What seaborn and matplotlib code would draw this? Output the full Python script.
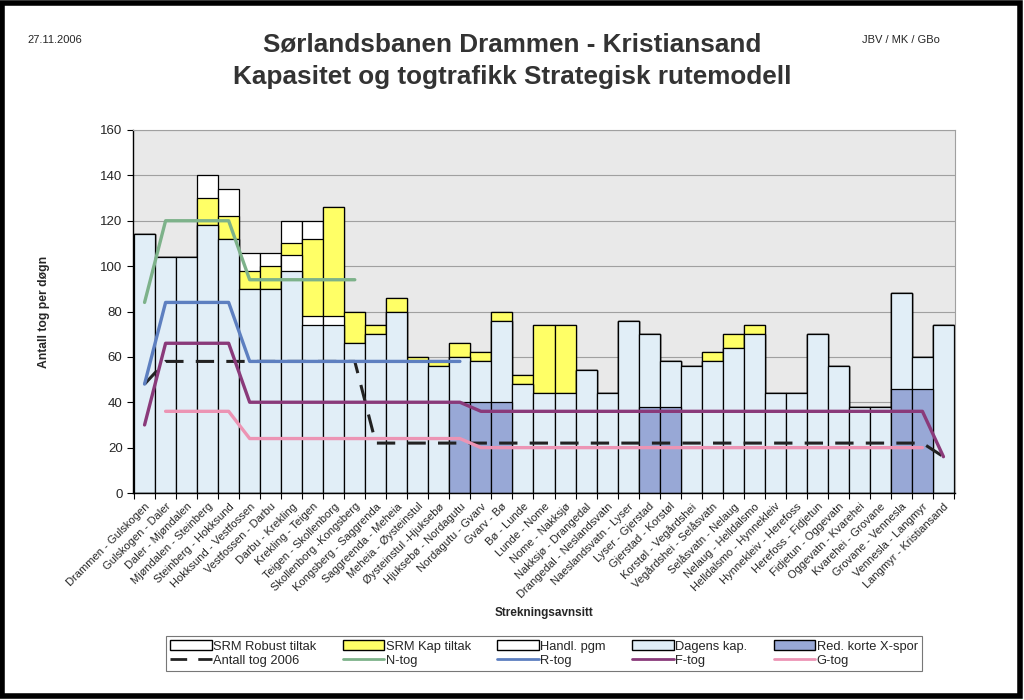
import numpy as np
import pandas as pd
import matplotlib
matplotlib.use("Agg")
import matplotlib.pyplot as plt
from matplotlib.patches import Patch, Rectangle
from matplotlib.lines import Line2D
import seaborn as sns

categories = [
    "Drammen - Gulskogen", "Gulskogen - Daler", "Daler - Mjøndalen", "Mjøndalen - Steinberg",
    "Steinberg - Hokksund", "Hokksund - Vestfossen", "Vestfossen - Darbu", "Darbu - Krekling",
    "Krekling - Teigen", "Teigen - Skollenborg", "Skollenborg -Kongsberg", "Kongsberg - Saggrenda",
    "Saggreenda - Meheia", "Meheia - Øysteinstul", "Øysteinstul -Hjuksebø", "Hjuksebø - Nordagutu",
    "Nordagutu - Gvarv", "Gvarv - Bø", "Bø - Lunde", "Lunde - Nome", "Nome - Nakksjø",
    "Nakksjø - Drangedal", "Drangedal - Neslandsvatn", "Naeslandsvatn - Lyser", "Lyser - Gjerstad",
    "Gjerstad - Korstøl", "Korstøl - Vegårdshei", "Vegårdshei - Selåsvatn", "Selåsvatn - Nelaug",
    "Nelaug - Helldalsmo", "Helldalsmo - Hynnekleiv", "Hynnekleiv - Herefoss", "Herefoss - Fidjetun",
    "Fidjetun - Oggevatn", "Oggevatn - Kvarehei", "Kvarehei - Grovane", "Grovane - Vennesla",
    "Vennesla - Langmyr", "Langmyr - Kristiansand",
]

# Bar layers
dagens_kap = [114, 104, 104, 118, 112, 90, 90, 98, 74, 74, 66, 70, 80, 58, 56, 60, 58, 76, 48, 44,
              44, 54, 44, 76, 70, 58, 56, 58, 64, 70, 44, 44, 70, 56, 38, 38, 88, 60, 74]
red_korte_xspor = [0, 0, 0, 0, 0, 0, 0, 0, 0, 0, 0, 0, 0, 0, 0, 40, 40, 40, 0, 0,
                   0, 0, 0, 0, 38, 38, 0, 0, 0, 0, 0, 0, 0, 0, 0, 0, 46, 46, 0]
handl_pgm = [0, 0, 0, 0, 0, 0, 0, 7, 4, 4, 0, 0, 0, 0, 0, 0, 0, 0, 0, 0,
             0, 0, 0, 0, 0, 0, 0, 0, 0, 0, 0, 0, 0, 0, 0, 0, 0, 0, 0]
srm_kap = [0, 0, 0, 12, 10, 8, 10, 5, 34, 48, 14, 4, 6, 2, 2, 6, 4, 4, 4, 30,
           30, 0, 0, 0, 0, 0, 0, 4, 6, 4, 0, 0, 0, 0, 0, 0, 0, 0, 0]
srm_robust = [0, 0, 0, 10, 12, 8, 6, 10, 8, 0, 0, 0, 0, 0, 0, 0, 0, 0, 0, 0,
              0, 0, 0, 0, 0, 0, 0, 0, 0, 0, 0, 0, 0, 0, 0, 0, 0, 0, 0]

nan = np.nan
# Lines
antall_2006 = [48] + [58] * 10 + [22] * 27 + [16]
n_tog = [84, 120, 120, 120, 120] + [94] * 6 + [nan] * 28
r_tog = [48, 84, 84, 84, 84] + [58] * 11 + [nan] * 23
f_tog = [30, 66, 66, 66, 66] + [40] * 11 + [36] * 22 + [16]
g_tog = [nan, 36, 36, 36, 36] + [24] * 11 + [20] * 22 + [nan]

sns.set_style("white")
plt.rcParams["font.family"] = ["Liberation Sans", "DejaVu Sans"]

fig = plt.figure(figsize=(10.24, 7), dpi=100)
ax = fig.add_axes([133 / 1024, 1 - 493 / 700, 822 / 1024, 363 / 700])
ax.set_facecolor("#e9e9e9")

df = pd.DataFrame({
    "cat": categories,
    "dagens": dagens_kap,
    "red": red_korte_xspor,
    "handl": handl_pgm,
    "kap": srm_kap,
    "robust": srm_robust,
})
df["lvl_handl"] = df["dagens"] + df["handl"]
df["lvl_kap"] = df["lvl_handl"] + df["kap"]
df["lvl_robust"] = df["lvl_kap"] + df["robust"]

c_dagens = "#e1eef7"
c_red = "#98a8d6"
c_yellow = "#ffff66"
layers = [("lvl_robust", "white"), ("lvl_kap", c_yellow), ("lvl_handl", "white"),
          ("dagens", c_dagens), ("red", c_red)]
for col, colr in layers:
    sns.barplot(data=df, x="cat", y=col, color=colr, saturation=1, width=1.0,
                edgecolor="black", linewidth=0.9, errorbar=None, ax=ax, zorder=2)

x = np.arange(len(categories))
line_specs = [
    (n_tog, "#7db28a", "N-tog"),
    (r_tog, "#5d7fc0", "R-tog"),
    (f_tog, "#8a3a7a", "F-tog"),
    (g_tog, "#ec94b4", "G-tog"),
]
ax.plot(x, antall_2006, color="#222222", lw=2.2, dashes=(6, 4), zorder=4)
for vals, colr, lab in line_specs:
    sns.lineplot(x=x, y=vals, color=colr, lw=2.4, ax=ax, zorder=5)

ax.set_ylim(0, 160)
ax.set_xlim(-0.55, len(categories) - 0.45)
ax.set_yticks(np.arange(0, 161, 20))
ax.yaxis.grid(True, color="#a0a0a0", lw=0.8)
ax.set_axisbelow(True)
ax.tick_params(axis="y", labelsize=9.5, length=4, direction="out", left=True, color="black")

ax.set_xticks(np.arange(-0.5, len(categories), 1))
ax.set_xticklabels([""] * (len(categories) + 1))
ax.set_xticks(x, minor=True)
ax.set_xticklabels(categories, minor=True, rotation=45, ha="right", rotation_mode="anchor",
                   fontsize=8.0)
ax.tick_params(axis="x", which="major", length=4, bottom=True, color="black")
ax.tick_params(axis="x", which="minor", length=0, pad=6)

for s in ["left", "bottom"]:
    ax.spines[s].set_color("black")
    ax.spines[s].set_linewidth(1.0)
for s in ["top", "right"]:
    ax.spines[s].set_color("#a0a0a0")
    ax.spines[s].set_linewidth(0.8)

ax.set_xlabel("Strekningsavnsitt", fontsize=8.5, fontweight="bold")
ax.set_ylabel("Antall tog per døgn", fontsize=8.7, fontweight="bold", labelpad=36)
ax.xaxis.set_label_coords(0.5, -0.315)

fig.text(0.5, 1 - 45 / 700, "Sørlandsbanen Drammen - Kristiansand", ha="center", va="center",
         fontsize=18.8, fontweight="bold", color="#333333")
fig.text(0.5, 1 - 77 / 700, "Kapasitet og togtrafikk Strategisk rutemodell", ha="center",
         va="center", fontsize=18.8, fontweight="bold", color="#333333")
fig.text(27 / 1024, 1 - 40 / 700, "27.11.2006", ha="left", va="center", fontsize=8)
fig.text(940 / 1024, 1 - 40 / 700, "JBV / MK / GBo", ha="right", va="center", fontsize=8)

handles = [
    Patch(facecolor="white", edgecolor="black", label="SRM Robust tiltak"),
    Line2D([], [], color="#222222", lw=2, dashes=(6, 4), label="Antall tog 2006"),
    Patch(facecolor=c_yellow, edgecolor="black", label="SRM Kap tiltak"),
    Line2D([], [], color="#7db28a", lw=2, label="N-tog"),
    Patch(facecolor="white", edgecolor="black", label="Handl. pgm"),
    Line2D([], [], color="#5d7fc0", lw=2, label="R-tog"),
    Patch(facecolor=c_dagens, edgecolor="black", label="Dagens kap."),
    Line2D([], [], color="#8a3a7a", lw=2, label="F-tog"),
    Patch(facecolor=c_red, edgecolor="black", label="Red. korte X-spor"),
    Line2D([], [], color="#ec94b4", lw=2, label="G-tog"),
]
if ax.get_legend() is not None:
    ax.get_legend().remove()
leg = fig.legend(handles=handles, ncol=5, loc="center",
                 bbox_to_anchor=(160 / 1024, 1 - 671 / 700, 768 / 1024, 35 / 700),
                 mode="expand", fontsize=9.3, frameon=True, fancybox=False,
                 handlelength=3.2, handleheight=0.8, handletextpad=0.1, labelspacing=0.15,
                 borderpad=0.3, columnspacing=0.5)
leg.get_frame().set_edgecolor("#555555")
leg.get_frame().set_linewidth(0.8)

fig.add_artist(Rectangle((0.002, 0.006), 0.994, 0.99, transform=fig.transFigure, fill=False,
                         edgecolor="black", lw=4))

fig.savefig("out.png", dpi=100)
